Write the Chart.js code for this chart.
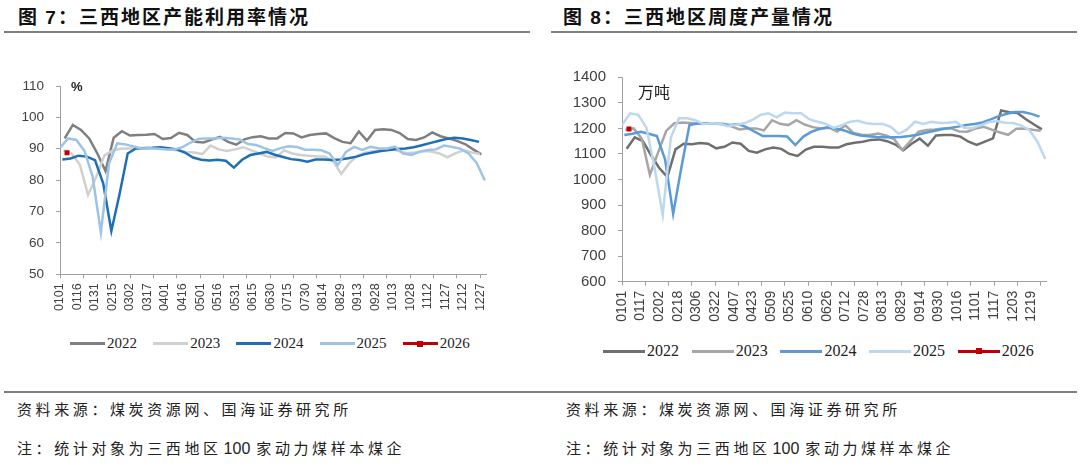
<!DOCTYPE html>
<html>
<head>
<meta charset="utf-8">
<script src="https://cdn.jsdelivr.net/npm/chart.js@4.4.1/dist/chart.umd.min.js"></script>
<style>
  body { margin: 0; width: 1080px; height: 466px; background: #fff; position: relative; overflow: hidden; font-family: "Noto Sans CJK SC", sans-serif; }
  .title { position: absolute; top: 2px; font-size: 19px; font-weight: bold; letter-spacing: 2px; color: #111; white-space: nowrap; }
  .title b { font-family: "Liberation Sans", Arial, sans-serif; }
  .rule { position: absolute; height: 2px; background: #808080; }
  .box { position: absolute; }
  .unit { position: absolute; color: #222; white-space: nowrap; }
  .note { position: absolute; font-size: 15px; letter-spacing: 3.6px; color: #222; white-space: nowrap; }
  .note span { font-family: "Liberation Sans", Arial, sans-serif; letter-spacing: 0; font-size: 16px; margin: 0 6px 0 2px; }
  .leg { position: absolute; display: flex; align-items: center; font-family: "Liberation Serif", "Times New Roman", serif; color: #222; white-space: nowrap; }
  .leg i { display: inline-block; height: 3px; position: relative; margin-right: 2px; }
  .leg i.mk::after { content: ""; position: absolute; left: 50%; top: 50%; width: 6px; height: 6px; margin: -3px 0 0 -3px; background: #c00000; }
</style>
</head>
<body>
<div class="title" style="left:18px;">图 <b>7</b>：三西地区产能利用率情况</div>
<div class="title" style="left:563px;">图 <b>8</b>：三西地区周度产量情况</div>
<div class="rule" style="left:4px; width:526px; top:31px;"></div>
<div class="rule" style="left:551px; width:526px; top:31px;"></div>

<div class="box" style="left:0; top:60px; width:540px; height:270px;"><canvas id="c1"></canvas></div>
<div class="box" style="left:540px; top:50px; width:540px; height:280px;"><canvas id="c2"></canvas></div>

<div class="unit" style="left:71px; top:79px; font-size:13px; font-weight:bold; font-family:'Liberation Sans', Arial;">%</div>
<div class="unit" style="left:638px; top:79px; font-size:16px;">万吨</div>

<div id="leg1"></div>
<div id="leg2"></div>

<div class="rule" style="left:4px; width:1073px; top:391px;"></div>
<div class="note" style="left:17px; top:398px;">资料来源：煤炭资源网、国海证券研究所</div>
<div class="note" style="left:17px; top:437px;">注：统计对象为三西地区<span>100</span>家动力煤样本煤企</div>
<div class="note" style="left:566px; top:398px;">资料来源：煤炭资源网、国海证券研究所</div>
<div class="note" style="left:566px; top:437px;">注：统计对象为三西地区<span>100</span>家动力煤样本煤企</div>

<script>
// 横轴标签（左图每15天一个，右图每16天一个）
const leftTickLabels = ['0101','0116','0131','0215','0302','0317','0401','0416','0501','0516','0531','0615','0630',
  '0715','0730','0814','0829','0913','0928','1013','1028','1112','1127','1212','1227'];
const rightTickLabels = ['0101','0117','0202','0218','0306','0322','0407','0423','0509','0525','0610','0626',
  '0712','0728','0813','0829','0914','0930','1016','1101','1117','1203','1219'];
const leftTickStep = 15;
const rightTickStep = 16;
const tickMarkStep = 20;

const years = ['2022', '2023', '2024', '2025', '2026'];
// 每年第一期周度数据对应的日序（1月1日为0）
const firstDays = [4, 3, 2, 0, 6];

// 图7：产能利用率（%）
const util2022 = [93.3,97.6,96,93.3,88.5,82.9,93.5,95.6,94.2,94.4,94.5,94.7,93.1,93.4,95.1,94.4,92.2,92,92.9,93.8,
  92.2,91.3,93,93.7,94,93.3,93.3,95,94.9,93.6,94.4,94.7,94.9,93.4,92.2,91.8,95.5,92.6,96,96.2,96,95,93.1,92.8,93.6,
  95.2,94,93.3,92.5,91.5,89.8,88.2];
const util2023 = [89.5,88.5,85,75.3,81,87.8,89.5,90,90.1,90.2,90.3,90.2,90.2,89.8,89.5,89,88.8,88.3,91,89.8,89.3,
  89.8,90.5,89.5,88.5,87.5,87.2,89.5,88.5,88,87.8,87.5,87.5,86,82,85.5,87.8,88.8,89.2,89.7,90.2,89.3,88.6,88.8,89.3,
  89.1,88.5,87.3,88.6,89.5,88.8,88.3];
const util2024 = [86.6,86.9,87.8,87.5,86.4,79,63.8,75.5,88.5,90.1,90.2,90.3,90.5,90.2,89.8,88.8,87.2,86.5,86.3,86.5,
  86.2,84,86.5,88,88.5,89,88.1,87.4,86.7,86.4,85.9,86.6,86.6,86.4,86.6,87,87.5,88.3,88.8,89.3,89.6,89.9,90.1,90.5,
  91.1,91.8,92.5,93.1,93.5,93.3,92.8,92.2];
const util2025 = [90.3,93.3,92.8,89.3,81.1,63.3,85.3,91.7,91.4,90.7,90.1,90.2,90,89.8,89.8,90.5,92,93.2,93.3,93.3,
  93.5,93.3,93,91.5,91.2,90.2,89.3,90.2,90.8,90.6,89.7,89.7,89.5,88.5,84.8,89,90.6,89.6,90.6,90.2,90,90.7,88.5,88,
  89,89.6,89.8,91,90.6,90,88.5,85.5,79.9];
const util2026 = [88.7];

// 图8：周度产量（万吨）
const output2022 = [1120,1165,1150,1095,1045,1010,1118,1140,1138,1143,1140,1122,1128,1145,1140,1112,1105,1118,1125,
  1120,1100,1092,1117,1128,1128,1125,1125,1138,1144,1148,1155,1157,1150,1137,1115,1140,1160,1132,1172,1174,1174,1168,
  1148,1135,1148,1161,1270,1263,1260,1237,1216,1196];
const output2023 = [1195,1200,1160,1018,1105,1190,1220,1223,1221,1218,1221,1218,1218,1208,1196,1200,1200,1192,1232,
  1218,1213,1232,1215,1205,1200,1203,1188,1212,1182,1175,1174,1180,1172,1158,1115,1150,1187,1194,1196,1200,1200,1188,
  1187,1200,1206,1195,1184,1175,1199,1200,1195,1191];
const output2024 = [1174,1179,1187,1179,1170,1079,866,1046,1213,1219,1220,1219,1216,1213,1217,1205,1187,1170,1170,
  1170,1168,1135,1168,1187,1198,1204,1200,1192,1180,1172,1169,1166,1165,1165,1166,1170,1175,1183,1190,1197,1202,1207,
  1213,1217,1223,1235,1248,1257,1264,1264,1257,1246];
const output2025 = [1213,1259,1253,1203,1046,861,1164,1240,1240,1232,1217,1220,1218,1209,1214,1220,1233,1253,1259,
  1243,1262,1259,1259,1236,1226,1218,1202,1213,1226,1230,1220,1217,1218,1206,1178,1196,1226,1217,1226,1221,1222,1226,
  1203,1200,1212,1224,1229,1222,1221,1212,1195,1150,1080];
const output2026 = [1198];

const leftColors = ['#7f7f7f', '#d0d0d0', '#1f6fb6', '#9dc3e6', '#c00000'];
const rightColors = ['#6f6f6f', '#a6a6a6', '#5b9bd5', '#bdd7ee', '#c00000'];

function weekly(start, values) {
  return values.map((v, i) => ({ x: start + 7 * i, y: v }));
}

function buildDatasets(seriesList, colors) {
  return seriesList.map((vals, k) => ({
    label: years[k],
    data: weekly(firstDays[k], vals),
    borderColor: colors[k],
    backgroundColor: colors[k],
    borderWidth: 2.5,
    pointRadius: k === 4 ? 3.5 : 0,
    pointStyle: 'rect',
    pointBorderWidth: 0,
    tension: 0,
    order: 4 - k
  }));
}

const axisColor = '#a0a0a0';
const tickColor = '#404040';

function xAxis(labels, step, fontSize, height) {
  return {
    type: 'linear', min: 0, max: 365,
    afterBuildTicks: s => {
      const set = new Set();
      labels.forEach((l, i) => set.add(i * step));
      for (let d = 0; d <= 360; d += tickMarkStep) set.add(d);
      s.ticks = [...set].sort((a, b) => a - b).map(v => ({ value: v }));
    },
    ticks: {
      autoSkip: false, minRotation: 90, maxRotation: 90, padding: 5,
      color: tickColor, font: { family: 'Liberation Sans', size: fontSize },
      callback: v => (v % step === 0 && v / step < labels.length) ? labels[v / step] : ''
    },
    grid: {
      drawOnChartArea: false, tickLength: 4,
      tickColor: ctx => (ctx.tick && ctx.tick.value % tickMarkStep === 0) ? axisColor : 'rgba(0,0,0,0)'
    },
    border: { color: axisColor, width: 1 },
    afterFit: s => { s.height = height; }
  };
}

function yAxis(min, max, step, fontSize, width) {
  return {
    min: min, max: max,
    ticks: { stepSize: step, padding: 12, color: tickColor, font: { family: 'Liberation Sans', size: fontSize },
      callback: v => String(v) },
    grid: { drawOnChartArea: false, tickLength: 4, tickColor: axisColor },
    border: { color: axisColor, width: 1 },
    afterFit: s => { s.width = width; }
  };
}

function makeChart(id, datasets, x, y, padding) {
  return new Chart(document.getElementById(id), {
    type: 'line',
    data: { datasets: datasets },
    options: {
      responsive: true,
      maintainAspectRatio: false,
      animation: false,
      layout: { padding: padding },
      plugins: { legend: { display: false }, tooltip: { enabled: false } },
      scales: { x: x, y: y }
    }
  });
}

makeChart('c1',
  buildDatasets([util2022, util2023, util2024, util2025, util2026], leftColors),
  xAxis(leftTickLabels, leftTickStep, 12.5, 55.7),
  yAxis(50, 110, 10, 13.5, 60),
  { left: 0, right: 54, top: 26, bottom: 0 });

makeChart('c2',
  buildDatasets([output2022, output2023, output2024, output2025, output2026], rightColors),
  xAxis(rightTickLabels, rightTickStep, 14, 48.3),
  yAxis(600, 1400, 100, 15, 82),
  { left: 0, right: 33.5, top: 27.3, bottom: 0 });

// 图例
function legend(id, colors, left, top, period, lineW, fontSize) {
  const host = document.getElementById(id);
  years.forEach((name, k) => {
    const d = document.createElement('div');
    d.className = 'leg';
    d.style.left = (left + k * period) + 'px';
    d.style.top = top + 'px';
    d.style.fontSize = fontSize + 'px';
    d.innerHTML = '<i class="' + (k === 4 ? 'mk' : '') + '" style="width:' + lineW + 'px;background:' + colors[k] + '"></i>' + name;
    host.appendChild(d);
  });
}
legend('leg1', leftColors, 70, 335, 83.2, 35, 15);
legend('leg2', rightColors, 603, 342, 88.7, 42, 16);
</script>
</body>
</html>
